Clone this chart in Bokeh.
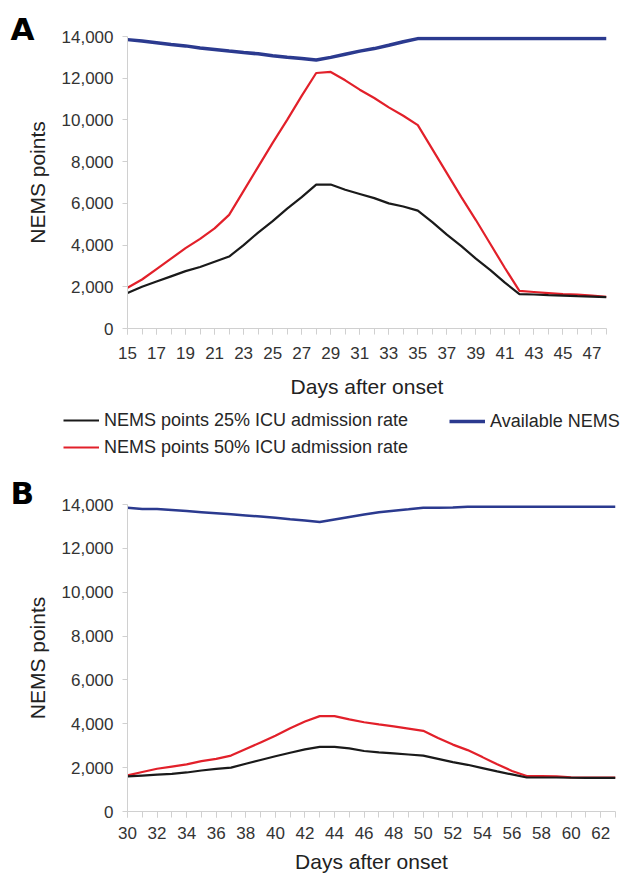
from bokeh.plotting import figure
from bokeh.models import (Range1d, FixedTicker, NumeralTickFormatter, Legend,
                          LegendItem, ColumnDataSource)
from bokeh.layouts import column
from bokeh.embed import file_html
from bokeh.resources import INLINE

FONT = "Liberation Sans"

# ---------------- Panel A data ----------------
days_a = [15, 16, 17, 18, 19, 20, 21, 22, 23, 24, 25, 26, 27, 28, 29, 30, 31,
          32, 33, 34, 35, 36, 37, 38, 39, 40, 41, 42, 43, 44, 45, 46, 47, 48]
nems25_a = [1700, 2000, 2250, 2500, 2750, 2950, 3200, 3450, 4000, 4600, 5150,
            5750, 6300, 6900, 6900, 6650, 6450, 6250, 6000, 5850, 5650, 5100,
            4500, 3950, 3350, 2800, 2200, 1650, 1630, 1600, 1580, 1550, 1530, 1500]
nems50_a = [1950, 2350, 2850, 3350, 3850, 4300, 4800, 5450, 6600, 7750, 8900,
            10000, 11150, 12250, 12300, 11900, 11450, 11050, 10600, 10200, 9750,
            8600, 7450, 6300, 5200, 4050, 2900, 1800, 1750, 1700, 1650, 1620, 1580, 1520]
avail_a = [13850, 13780, 13700, 13620, 13550, 13450, 13380, 13300, 13230, 13170,
           13080, 13000, 12940, 12870, 13000, 13150, 13300, 13420, 13580, 13750,
           13900, 13900, 13900, 13900, 13900, 13900, 13900, 13900, 13900, 13900,
           13900, 13900, 13900, 13900]
xlabels_a = [15, 17, 19, 21, 23, 25, 27, 29, 31, 33, 35, 37, 39, 41, 43, 45, 47]

# ---------------- Panel B data ----------------
days_b = [30, 31, 32, 33, 34, 35, 36, 37, 38, 39, 40, 41, 42, 43, 44, 45, 46,
          47, 48, 49, 50, 51, 52, 53, 54, 55, 56, 57, 58, 59, 60, 61, 62, 63]
nems25_b = [1600, 1640, 1680, 1720, 1780, 1870, 1940, 2000, 2180, 2350, 2520,
            2680, 2830, 2950, 2950, 2880, 2760, 2700, 2650, 2600, 2550, 2400,
            2250, 2130, 1980, 1830, 1690, 1550, 1550, 1550, 1540, 1530, 1530, 1530]
nems50_b = [1650, 1800, 1950, 2050, 2150, 2300, 2400, 2550, 2850, 3150, 3450,
            3800, 4100, 4350, 4350, 4200, 4070, 3970, 3880, 3780, 3680, 3350,
            3050, 2800, 2480, 2150, 1850, 1620, 1620, 1600, 1560, 1550, 1550, 1550]
avail_b = [13850, 13800, 13800, 13750, 13700, 13650, 13600, 13550, 13500, 13450,
           13400, 13330, 13270, 13200, 13320, 13430, 13540, 13650, 13720, 13780,
           13850, 13850, 13860, 13900, 13900, 13900, 13900, 13900, 13900, 13900,
           13900, 13900, 13900, 13900]
xlabels_b = [30, 32, 34, 36, 38, 40, 42, 44, 46, 48, 50, 52, 54, 56, 58, 60, 62]

yticks = [0, 2000, 4000, 6000, 8000, 10000, 12000, 14000]

series_labels = ["NEMS points 25% ICU admission rate",
                 "NEMS points 50% ICU admission rate",
                 "Available NEMS"]
panel_letters = ["A", "B"]

BLACK = "#1a1a1a"
RED = "#e2202a"
BLUE = "#2b3a8f"
AXIS_GREY = "#d0d0d0"
TEXT = "#333333"
W = 621


def add_lines(p, days, s25, s50, avail, blue_w):
    src = ColumnDataSource(dict(x=days, s25=s25, s50=s50, avail=avail))
    r_avail = p.line("x", "avail", source=src, line_color=BLUE, line_width=blue_w)
    r50 = p.line("x", "s50", source=src, line_color=RED, line_width=2.2)
    r25 = p.line("x", "s25", source=src, line_color=BLACK, line_width=2.2)
    return r25, r50, r_avail


def make_panel(letter, days, s25, s50, avail, xlabels, height, borders,
               blue_w, lbl_standoff, title_standoff, letter_standoff):
    left, right, top, bottom = borders
    p = figure(width=W, height=height, output_backend="svg",
               toolbar_location=None,
               x_range=Range1d(days[0], days[-1]), y_range=Range1d(0, 14000),
               min_border_left=left, min_border_right=right,
               min_border_top=top, min_border_bottom=bottom)
    p.frame_align = False
    p.outline_line_color = None
    p.xgrid.grid_line_color = None
    p.ygrid.grid_line_color = None
    p.background_fill_color = "white"
    p.border_fill_color = "white"

    # panel letter as title
    p.title.text = letter
    p.title.align = "left"
    p.title.offset = -(left - 10)
    p.title.standoff = letter_standoff
    p.title.text_font = "DejaVu Sans"
    p.title.text_font_style = "bold"
    p.title.text_font_size = "31px"
    p.title.text_color = "black"

    add_lines(p, days, s25, s50, avail, blue_w)

    # x axis
    xa = p.xaxis[0]
    xa.ticker = FixedTicker(ticks=xlabels, minor_ticks=days)
    xa.axis_line_color = AXIS_GREY
    xa.major_tick_line_color = AXIS_GREY
    xa.minor_tick_line_color = AXIS_GREY
    xa.major_tick_out = 6
    xa.major_tick_in = 0
    xa.minor_tick_out = 6
    xa.minor_tick_in = 0
    xa.major_label_text_font = FONT
    xa.major_label_text_font_size = "17px"
    xa.major_label_text_color = TEXT
    xa.major_label_standoff = lbl_standoff
    xa.axis_label = "Days after onset"
    xa.axis_label_text_font = FONT
    xa.axis_label_text_font_size = "21px"
    xa.axis_label_text_font_style = "normal"
    xa.axis_label_text_color = "#222222"
    xa.axis_label_standoff = title_standoff

    # y axis
    ya = p.yaxis[0]
    ya.ticker = FixedTicker(ticks=yticks, minor_ticks=[])
    ya.formatter = NumeralTickFormatter(format="0,0")
    ya.axis_line_color = AXIS_GREY
    ya.major_tick_line_color = AXIS_GREY
    ya.major_tick_out = 5
    ya.major_tick_in = 0
    ya.major_label_text_font = FONT
    ya.major_label_text_font_size = "17px"
    ya.major_label_text_color = TEXT
    ya.major_label_standoff = 9
    ya.axis_label = "NEMS points"
    ya.axis_label_text_font = FONT
    ya.axis_label_text_font_size = "21px"
    ya.axis_label_text_font_style = "normal"
    ya.axis_label_text_color = "#222222"
    ya.axis_label_standoff = 10
    return p


pA = make_panel(panel_letters[0], days_a, nems25_a, nems50_a, avail_a, xlabels_a,
                405, (127, 15, 36, 77), 3.5, 12, 13, -20)

# ---- legend strip (the series lines sit outside its 0..1 view; only the legend shows)
LH = 65
pL = figure(width=W, height=LH, output_backend="svg", toolbar_location=None,
            x_range=Range1d(0, 1), y_range=Range1d(0, 1),
            x_axis_location=None, y_axis_location=None,
            min_border_left=0, min_border_right=0, min_border_top=0,
            min_border_bottom=0)
pL.frame_align = False
pL.outline_line_color = None
pL.xgrid.grid_line_color = None
pL.ygrid.grid_line_color = None
l25, l50, lav = add_lines(pL, days_a, nems25_a, nems50_a, avail_a, 3.5)
common = dict(border_line_color=None, background_fill_alpha=0, padding=0,
              margin=0, spacing=5, glyph_width=36, glyph_height=22,
              label_height=22, label_standoff=5, label_text_font=FONT,
              label_text_font_size="18px", label_text_color="#262626",
              orientation="vertical")
leg1 = Legend(items=[LegendItem(label=series_labels[0], renderers=[l25]),
                     LegendItem(label=series_labels[1], renderers=[l50])],
              location=(63, 12), **common)
leg2 = Legend(items=[LegendItem(label=series_labels[2], renderers=[lav])],
              location=(449, 38), **common)
pL.add_layout(leg1)
pL.add_layout(leg2)

pB = make_panel(panel_letters[1], days_b, nems25_b, nems50_b, avail_b, xlabels_b,
                408, (127, 6, 34, 67), 2.5, 9, 8, -12)

layout = column(pA, pL, pB, spacing=0)
open("out.html", "w").write(file_html(layout, INLINE))
